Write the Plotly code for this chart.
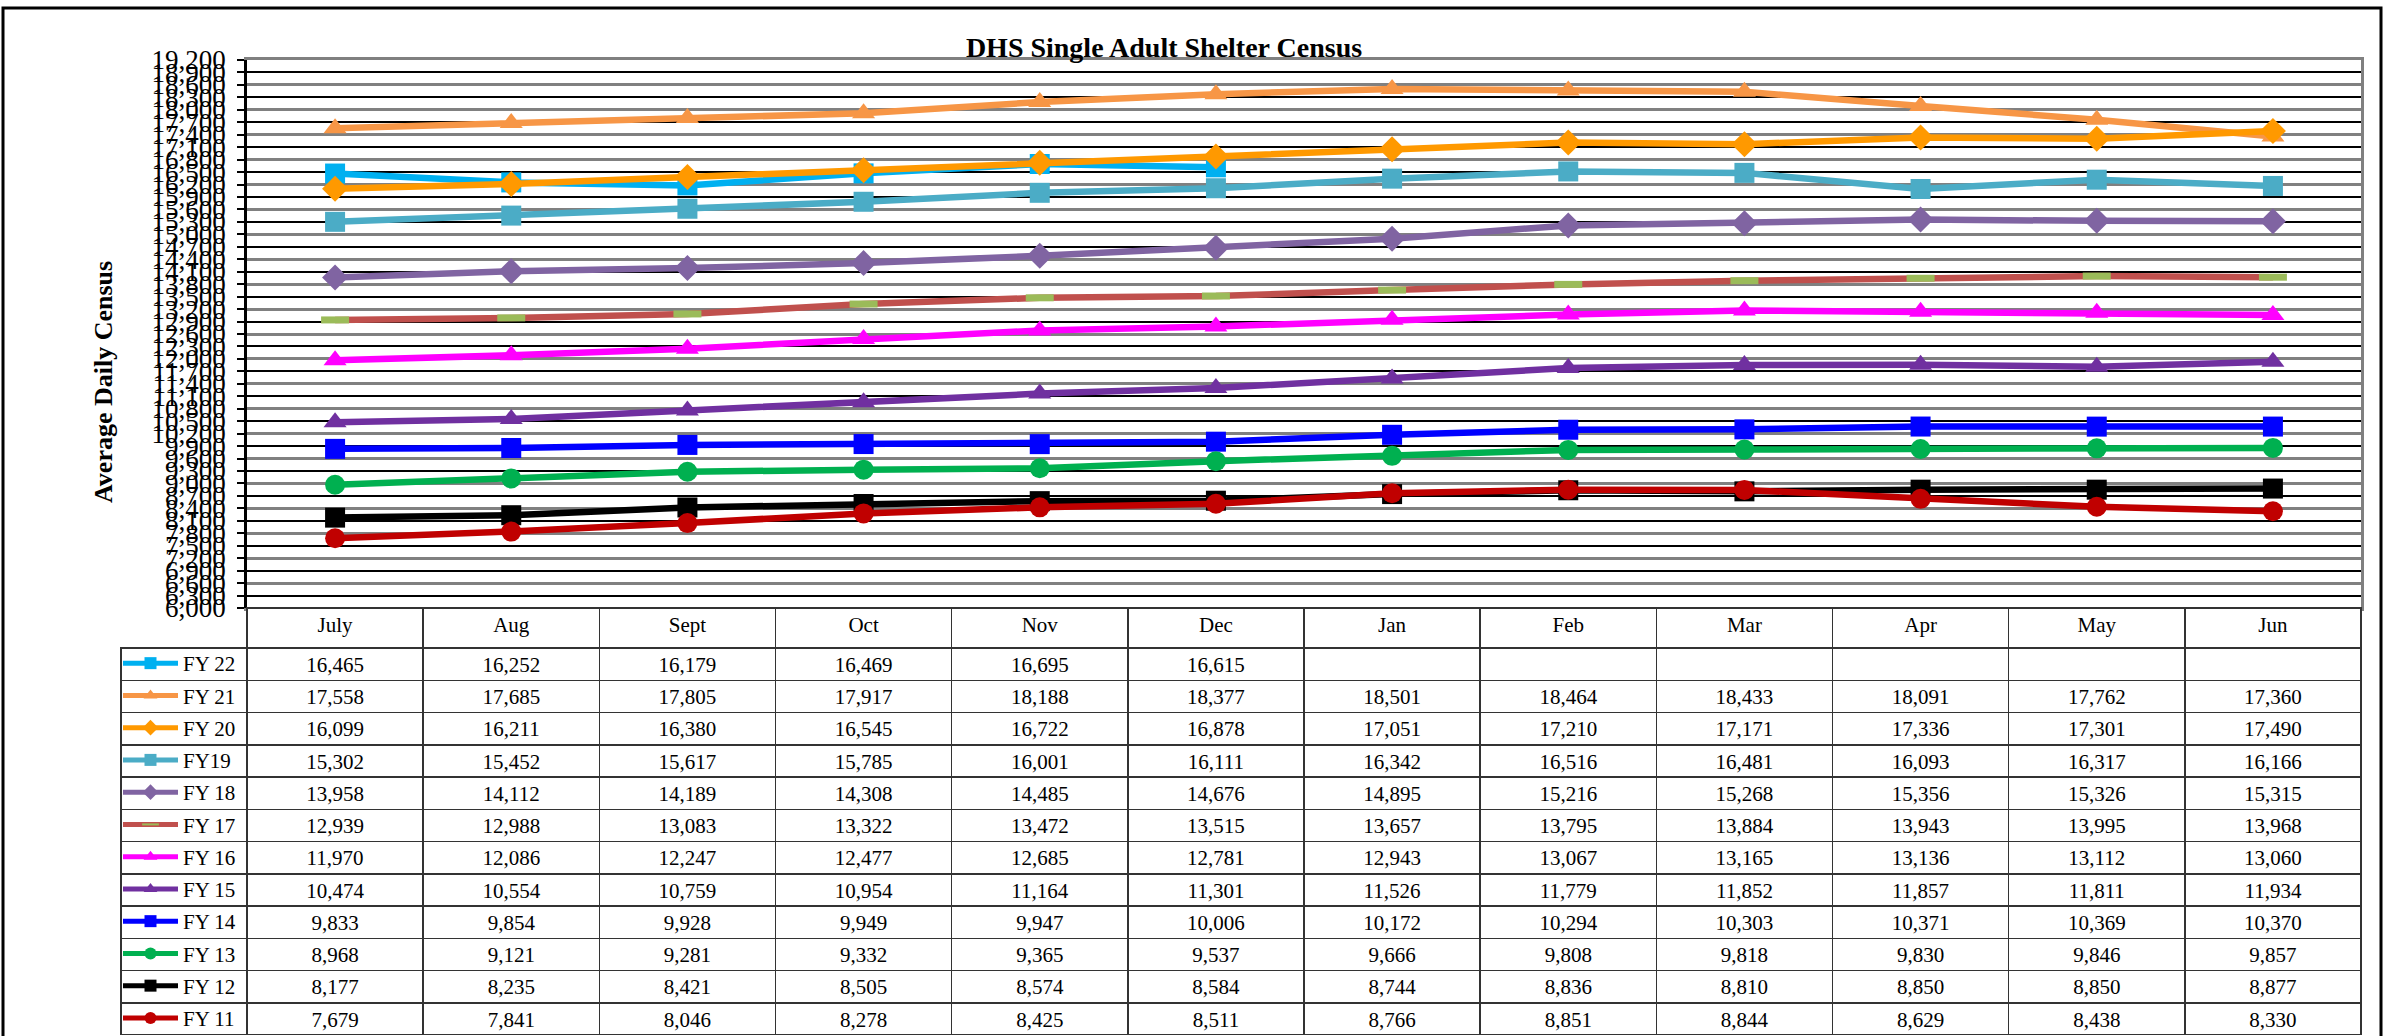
import plotly.graph_objects as go

W, H = 2384, 1036

months = ["July", "Aug", "Sept", "Oct", "Nov", "Dec", "Jan", "Feb", "Mar", "Apr", "May", "Jun"]

series_names = ["FY 22", "FY 21", "FY 20", "FY19", "FY 18", "FY 17", "FY 16", "FY 15", "FY 14", "FY 13", "FY 12", "FY 11"]

fy22 = [16465, 16252, 16179, 16469, 16695, 16615, None, None, None, None, None, None]
fy21 = [17558, 17685, 17805, 17917, 18188, 18377, 18501, 18464, 18433, 18091, 17762, 17360]
fy20 = [16099, 16211, 16380, 16545, 16722, 16878, 17051, 17210, 17171, 17336, 17301, 17490]
fy19 = [15302, 15452, 15617, 15785, 16001, 16111, 16342, 16516, 16481, 16093, 16317, 16166]
fy18 = [13958, 14112, 14189, 14308, 14485, 14676, 14895, 15216, 15268, 15356, 15326, 15315]
fy17 = [12939, 12988, 13083, 13322, 13472, 13515, 13657, 13795, 13884, 13943, 13995, 13968]
fy16 = [11970, 12086, 12247, 12477, 12685, 12781, 12943, 13067, 13165, 13136, 13112, 13060]
fy15 = [10474, 10554, 10759, 10954, 11164, 11301, 11526, 11779, 11852, 11857, 11811, 11934]
fy14 = [9833, 9854, 9928, 9949, 9947, 10006, 10172, 10294, 10303, 10371, 10369, 10370]
fy13 = [8968, 9121, 9281, 9332, 9365, 9537, 9666, 9808, 9818, 9830, 9846, 9857]
fy12 = [8177, 8235, 8421, 8505, 8574, 8584, 8744, 8836, 8810, 8850, 8850, 8877]
fy11 = [7679, 7841, 8046, 8278, 8425, 8511, 8766, 8851, 8844, 8629, 8438, 8330]

series_values = [fy22, fy21, fy20, fy19, fy18, fy17, fy16, fy15, fy14, fy13, fy12, fy11]

y_min, y_max, y_step = 6000, 19200, 300

# styles
line_colors = ["#00B0F0", "#F79646", "#FF9900", "#4BACC6", "#8064A2", "#C0504D",
               "#FF00FF", "#7030A0", "#0000FF", "#00B050", "#000000", "#C00000"]
symbols = ["square", "triangle-up", "diamond", "square", "diamond", "line-ew",
           "triangle-up", "triangle-up", "square", "circle", "square", "circle"]

SERIF = "Liberation Serif"

# layout geometry (pixels)
plot_l, plot_r, plot_t, plot_b = 247, 2361, 60, 608
tab_l = 121
header_h = 40
row_h = 32.25

fig = go.Figure()

for k, (name, vals, col, sym) in enumerate(zip(series_names, series_values, line_colors, symbols)):
    if sym == "line-ew":
        marker = dict(symbol=sym, size=20, line=dict(color="#9BBB59", width=7), color="#9BBB59")
    else:
        marker = dict(symbol=sym, size=20, color=col, line=dict(width=0))
    fig.add_trace(go.Scatter(
        x=months, y=vals, name=name, mode="lines+markers",
        line=dict(color=col, width=6.5), marker=marker,
        legendgroup=name, connectgaps=False,
        xaxis="x", yaxis="y" if k == 0 else "y2",
    ))

def fmt(v):
    return "" if v is None else f"{v:,}"

table_cols = [["" for _ in series_names]]
for i in range(len(months)):
    table_cols.append([fmt(s[i]) for s in series_values])

fig.add_trace(go.Table(
    domain=dict(x=[tab_l / W, plot_r / W], y=[0, 1 - plot_b / H]),
    columnwidth=[plot_l - tab_l] + [(plot_r - plot_l) / 12] * 12,
    header=dict(
        values=[""] + months,
        fill=dict(color=["rgba(0,0,0,0)"] + ["white"] * 12),
        line=dict(color=["rgba(0,0,0,0)"] + ["#333333"] * 12, width=1.5),
        font=dict(family=SERIF, size=21, color="black"),
        align="center", height=header_h,
    ),
    cells=dict(
        values=table_cols,
        fill=dict(color="white"),
        line=dict(color="#333333", width=1.5),
        font=dict(family=SERIF, size=21, color="black"),
        align="center", height=row_h,
    ),
))

fig.update_layout(
    width=W, height=H,
    margin=dict(l=0, r=0, t=0, b=0, autoexpand=False),
    paper_bgcolor="white", plot_bgcolor="white",
    font=dict(family=SERIF, color="black"),
    title=dict(text="<b>DHS Single Adult Shelter Census</b>",
               font=dict(family=SERIF, size=28, color="black"),
               x=1164 / W, xanchor="center", xref="paper",
               y=1 - 47 / H, yanchor="middle", yref="container"),
    showlegend=True,
    legend=dict(x=118 / W, xanchor="left", y=1 - 643 / H, yanchor="top",
                bgcolor="rgba(0,0,0,0)", borderwidth=0,
                font=dict(family=SERIF, size=21, color="black"),
                tracegroupgap=1.95, itemwidth=55, itemsizing="constant",
                traceorder="grouped"),
    xaxis=dict(domain=[plot_l / W, plot_r / W], range=[-0.5, 11.5],
               type="category", showticklabels=False, ticks="",
               showgrid=False, zeroline=False, automargin=False,
               showline=True, linecolor="#808080", linewidth=2.5, mirror=True),
    # gridlines + right border
    yaxis=dict(domain=[1 - plot_b / H, 1 - plot_t / H], range=[y_min, y_max],
               tickmode="linear", tick0=y_min, dtick=2 * y_step,
               showticklabels=False, ticks="", side="right",
               showgrid=True, gridcolor="#808080", gridwidth=2.5,
               minor=dict(dtick=y_step, tick0=y_min, showgrid=True,
                          gridcolor="black", gridwidth=1.5),
               zeroline=False, automargin=False,
               showline=True, linecolor="#808080", linewidth=2.5),
    # tick labels + left axis line
    yaxis2=dict(overlaying="y", side="left", range=[y_min, y_max],
                tickmode="linear", tick0=y_min, dtick=y_step, tickformat=",",
                tickfont=dict(family=SERIF, size=27, color="black"),
                ticks="outside", ticklen=7, tickcolor="black", tickwidth=1.5,
                ticklabelstandoff=6,
                showgrid=False, zeroline=False, automargin=False,
                showline=True, linecolor="black", linewidth=2.5),
    annotations=[dict(text="<b>Average Daily Census</b>", textangle=-90,
                      x=103 / W, y=1 - 382 / H, xref="paper", yref="paper",
                      xanchor="center", yanchor="middle", showarrow=False,
                      font=dict(family=SERIF, size=26, color="black"))],
    shapes=[dict(type="rect", xref="paper", yref="paper",
                 x0=3 / W, x1=2381 / W, y0=-0.02, y1=1 - 8 / H,
                 line=dict(color="black", width=3), fillcolor="rgba(0,0,0,0)",
                 layer="above")],
)

fig.write_html("out.html",
               config={"displayModeBar": False},
               post_script="document.body.style.margin='0px';document.body.style.overflow='hidden';")
